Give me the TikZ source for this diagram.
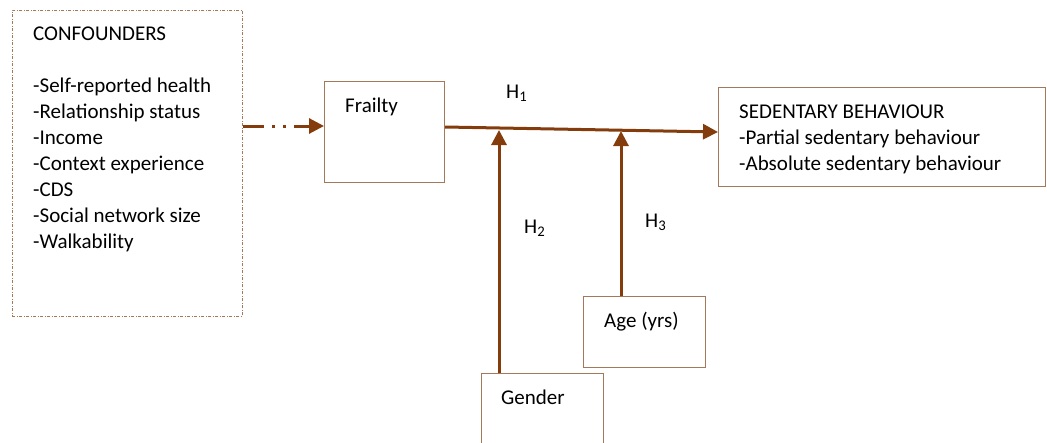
\documentclass[tikz,border=0pt]{standalone}
\usepackage{fontspec}
\setmainfont{Carlito}
\usetikzlibrary{arrows.meta}
\definecolor{arrowbrown}{HTML}{843C0C}
\definecolor{boxbrown}{HTML}{A6785A}
\tikzset{
  box/.style={draw=boxbrown, line width=1.2pt, inner sep=0pt},
  dbox/.style={draw=boxbrown, line width=0.9pt, dash pattern=on 3pt off 1.5pt on 1pt off 1.5pt, inner sep=0pt},
  txt/.style={anchor=base west, inner sep=0pt, font=\fontsize{21}{26}\selectfont},
  conn/.style={draw=arrowbrown, line width=3pt, -{Triangle[length=15pt,width=15pt]}},
}
\begin{document}
\begin{tikzpicture}[x=1pt,y=-1pt]
\useasboundingbox (0,0) rectangle (1047,442);
% boxes
\node[dbox, minimum width=230pt, minimum height=306pt, anchor=north west] (conf) at (12,10) {};
\node[box, minimum width=120pt, minimum height=101pt, anchor=north west] (frail) at (324,81) {};
\node[box, minimum width=327pt, minimum height=99pt, anchor=north west] (sed) at (718,87) {};
\node[box, minimum width=122pt, minimum height=71pt, anchor=north west] (age) at (583,296) {};
\node[box, minimum width=122pt, minimum height=90pt, anchor=north west] (gender) at (481,373) {};
% texts
\node[txt] (tconf) at (33,40) {CONFOUNDERS};
\node[txt] (t1) at (33,92) {-Self-reported health};
\node[txt] (t2) at (33,118) {-Relationship status};
\node[txt] (t3) at (33,144) {-Income};
\node[txt] (t4) at (33,170) {-Context experience};
\node[txt] (t5) at (33,196) {-CDS};
\node[txt] (t6) at (33,222) {-Social network size};
\node[txt] (t7) at (33,248) {-Walkability};
\node[txt] (tfrail) at (345,112) {Frailty};
\node[txt] (ts1) at (739,118) {SEDENTARY BEHAVIOUR};
\node[txt] (ts2) at (739,144) {-Partial sedentary behaviour};
\node[txt] (ts3) at (739,170) {-Absolute sedentary behaviour};
\node[txt] (tage) at (604,327) {Age (yrs)};
\node[txt] (tgender) at (501,404) {Gender};
\node[txt] (h1) at (506,98) {H\textsubscript{1}};
\node[txt] (h2) at (524,233) {H\textsubscript{2}};
\node[txt] (h3) at (645,227) {H\textsubscript{3}};
% connectors
\coordinate (cstart) at (conf.east |- 0,126);
\coordinate (fin) at (frail.west |- 0,126);
\draw[conn, dash pattern=on 21pt off 8pt on 3pt off 8pt on 3pt off 8pt] (cstart) -- (fin);
\coordinate (fout) at (frail.east |- 0,127);
\coordinate (sin) at (sed.west |- 0,132);
\draw[conn] (fout) -- (sin);
\coordinate (gtop) at (499,130);
\coordinate (atop) at (621,131);
\draw[conn] (gender.north -| gtop) -- (gtop);
\draw[conn] (age.north -| atop) -- (atop);
\end{tikzpicture}
\end{document}
